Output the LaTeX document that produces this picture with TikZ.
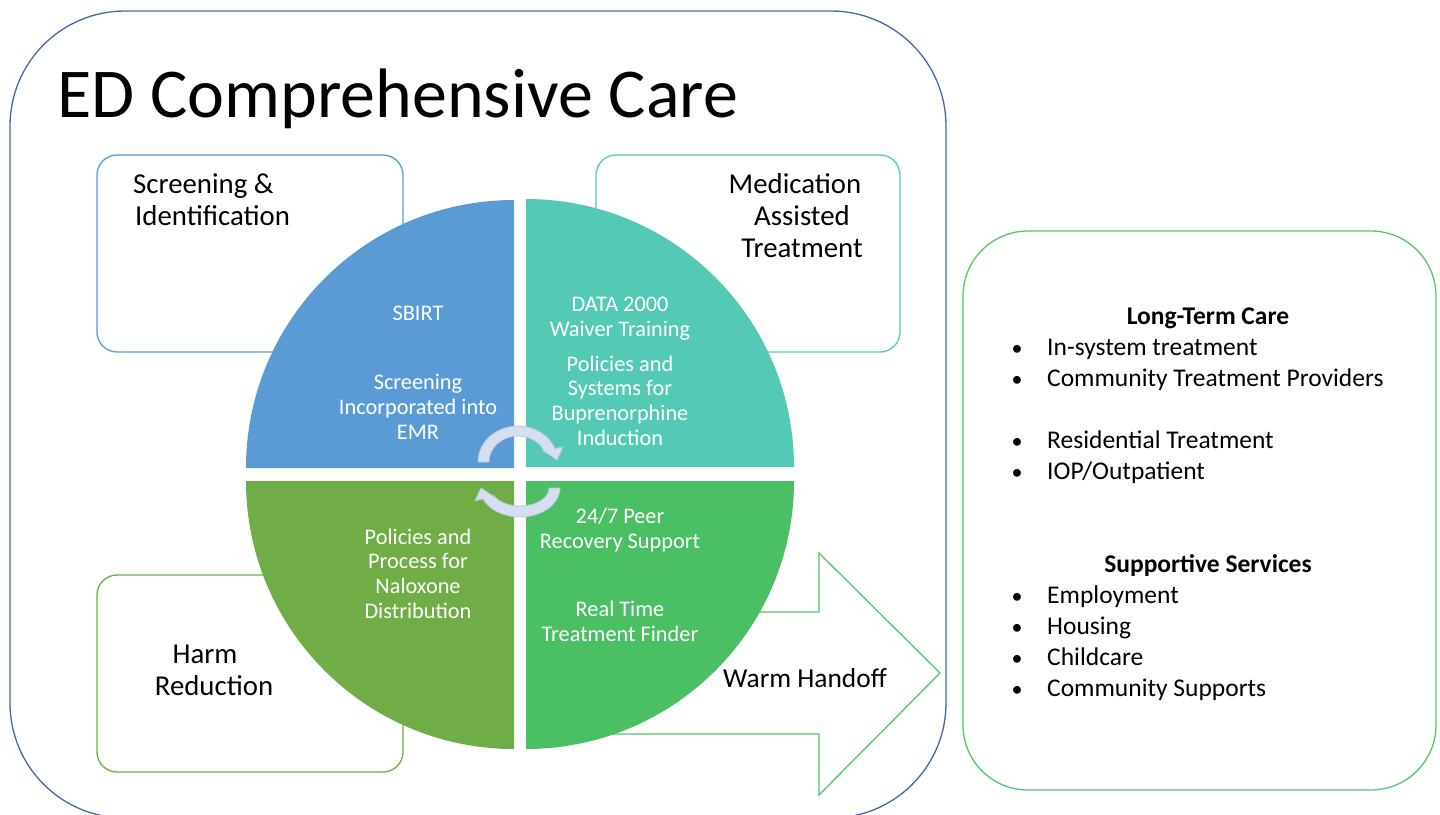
\documentclass[tikz,border=0pt]{standalone}
\usepackage{fontspec}
\setmainfont{Carlito}
\usetikzlibrary{calc}
\definecolor{outerblue}{HTML}{4767A3}
\definecolor{qblue}{HTML}{5B9BD5}
\definecolor{qteal}{HTML}{54C9B5}
\definecolor{qolive}{HTML}{70AD47}
\definecolor{qgreen}{HTML}{4ABF64}
\definecolor{tealline}{HTML}{55CBB9}
\definecolor{greenline}{HTML}{58C46B}
\definecolor{cycfill}{HTML}{D6DFEF}
\definecolor{cycline}{HTML}{B7C6E3}
\begin{document}
\begin{tikzpicture}[x=1pt,y=1pt,
  panel/.style={rounded corners=20pt, line width=1.3pt, fill=white},
  pietext/.style={text=white, font=\fontsize{22.3}{24.6}\selectfont, align=center, inner sep=0pt, anchor=base},
  boxlabel/.style={font=\fontsize{28.8}{31.6}\selectfont, inner sep=0pt, anchor=base},
  listtext/.style={font=\fontsize{25.5}{31}\selectfont, inner sep=0pt, anchor=base west},
  listhead/.style={font=\fontsize{25.5}{31}\selectfont\bfseries, inner sep=0pt, anchor=base},
  bul/.style={font=\fontsize{22}{31}\selectfont, inner sep=0pt, anchor=base},
  cyc/.style={fill=cycfill, draw=cycline, line width=0.8pt}]
\useasboundingbox (0,0) rectangle (1440,-814);
\clip (0,0) rectangle (1440,-814);

% outer frame
\draw[outerblue, line width=1.3pt, rounded corners=115pt] (10,-11) rectangle (946,-818);

% title
\node[font=\fontsize{70}{84}\selectfont, inner sep=0pt, anchor=base west] (title) at (57,-117) {ED Comprehensive Care};

% side boxes
\draw[panel, draw=qblue] (97,-155) rectangle (403,-352);
\draw[panel, draw=tealline] (596,-155) rectangle (900,-352);
\draw[panel, draw=qolive] (97,-575) rectangle (403,-772);

% warm handoff arrow
\draw[line width=1.3pt, draw=greenline, fill=white, line join=miter]
  (600,-612) -- (819,-612) -- (819,-553) -- (940,-673) -- (819,-795) -- (819,-734) -- (600,-734) -- cycle;

% pie quadrants
\fill[qblue] (514,-468) -- ++(-268,0) arc[start angle=180, end angle=90, radius=268] -- cycle;
\fill[qteal] (526,-467) -- ++(0,268) arc[start angle=90, end angle=0, radius=268] -- cycle;
\fill[qolive] (514,-481) -- ++(-268,0) arc[start angle=180, end angle=270, radius=268] -- cycle;
\fill[qgreen] (526,-481) -- ++(268,0) arc[start angle=0, end angle=-90, radius=268] -- cycle;

% circular arrows
\coordinate (c1) at (518,-462);
\coordinate (c2) at (520,-488);
\filldraw[cyc] ($(c1)+(180:40 and 36)$) arc[start angle=180, end angle=22, x radius=40, y radius=36]
  -- ($(c1)+(45,15)$) -- ($(c1)+(39,2)$) -- ($(c1)+(24,12)$)
  -- ($(c1)+(22:29 and 26)$) arc[start angle=22, end angle=180, x radius=29, y radius=26] -- cycle;
\filldraw[cyc] ($(c2)+(0:40 and 29)$) arc[start angle=0, end angle=-158, x radius=40, y radius=29]
  -- ($(c2)+(-45,-13)$) -- ($(c2)+(-39,0)$) -- ($(c2)+(-24,-10)$)
  -- ($(c2)+(-158:29 and 18)$) arc[start angle=-158, end angle=0, x radius=29, y radius=18] -- cycle;

% box labels (anchor = baseline of last line)
\node[boxlabel, anchor=base west, align=left] (scr) at (133,-225) {Screening \&\\\hspace*{2pt}Identification};
\node[boxlabel, align=center] (mat) at (802,-257) {Medication\hspace*{14pt}\\Assisted\\Treatment};
\node[boxlabel, align=center] (harm) at (214,-695) {Harm\hspace*{18pt}\\Reduction};
\node[boxlabel, anchor=base west, font=\fontsize{27.4}{31}\selectfont] (warm) at (723,-687) {Warm Handoff};

% pie texts
\node[pietext] (sbirt) at (418,-320) {SBIRT};
\node[pietext] (emr) at (418,-439) {Screening\\Incorporated into\\EMR};
\node[pietext] (data) at (620,-336) {DATA 2000\\Waiver Training};
\node[pietext] (bup) at (620,-445) {Policies and\\Systems for\\Buprenorphine\\Induction};
\node[pietext] (nal) at (418,-618) {Policies and\\Process for\\Naloxone\\Distribution};
\node[pietext] (peer) at (620,-548) {24/7 Peer\\Recovery Support};
\node[pietext] (finder) at (620,-641) {Real Time\\Treatment Finder};

% right box
\draw[line width=1.3pt, draw=greenline, rounded corners=65pt] (963,-231) rectangle (1436,-790);
\node[listhead] (ltc) at (1208,-324) {Long-Term Care};
\node[bul] (b1) at (1017,-355) {•};
\node[listtext] (l1) at (1047,-355) {In-system treatment};
\node[bul] (b2) at (1017,-386) {•};
\node[listtext] (l2) at (1047,-386) {Community Treatment Providers};
\node[bul] (b3) at (1017,-448) {•};
\node[listtext] (l3) at (1047,-448) {Residential Treatment};
\node[bul] (b4) at (1017,-479) {•};
\node[listtext] (l4) at (1047,-479) {IOP/Outpatient};
\node[listhead] (sup) at (1208,-572) {Supportive Services};
\node[bul] (b5) at (1017,-603) {•};
\node[listtext] (l5) at (1047,-603) {Employment};
\node[bul] (b6) at (1017,-634) {•};
\node[listtext] (l6) at (1047,-634) {Housing};
\node[bul] (b7) at (1017,-665) {•};
\node[listtext] (l7) at (1047,-665) {Childcare};
\node[bul] (b8) at (1017,-696) {•};
\node[listtext] (l8) at (1047,-696) {Community Supports};
\end{tikzpicture}
\end{document}
